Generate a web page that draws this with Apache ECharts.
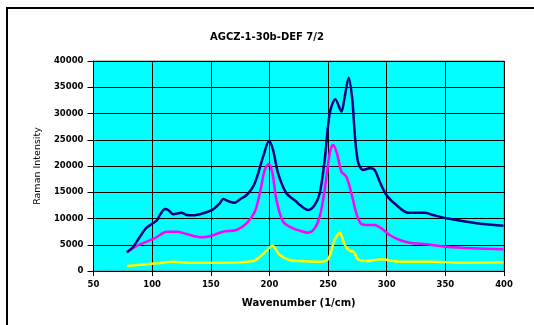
<!DOCTYPE html>
<html><head><meta charset="utf-8">
<script src="https://cdn.jsdelivr.net/npm/echarts@6/dist/echarts.min.js"></script>
<style>html,body{margin:0;padding:0;background:#fff;}#c{width:534px;height:325px;}</style>
</head><body><div id="c"></div>
<script>
const titleText = 'AGCZ-1-30b-DEF 7/2';
const xName = 'Wavenumber (1/cm)';
const yName = 'Raman Intensity';

const waveNavy = [78.3,83.9,89.6,95.3,103.8,106.6,110.9,113.7,118,125.1,129.4,135,143.5,152,157.7,160.5,166.2,170.5,174.8,180.5,186.1,190.4,194.6,199.7,203.1,207.4,214.5,223,226,232.9,238.6,242.9,247.1,251.4,256.2,261.4,264.2,267.6,270.7,272.7,275.5,279.8,285.5,289.7,294,299.7,308.2,318.1,332.3,339.4,350.8,367.8,382,399.6];
const intNavy  = [3560,4630,6540,8250,9580,10670,11810,11620,10800,11100,10670,10600,11000,11750,12900,13700,13200,13000,13650,14480,16060,18600,21770,24760,23050,18600,14800,13200,12570,11620,12570,14800,21140,30040,32700,30350,33200,36820,32570,26230,20820,19240,19560,19240,17010,14480,12570,11100,11100,10670,10030,9400,8950,8630];

const waveMagenta = [78.3,86.7,100.9,106.6,112.3,120.8,129.4,142.1,150.7,160.5,171.9,180.5,187.5,191.8,196,199.5,202.6,206,211.6,220.1,226,232.9,238.6,242.9,247.1,251.4,254.2,257.6,261.4,265.6,269.9,274.1,278.4,284,289.7,295.4,302.5,311,319.5,333.7,350.8,373.4,399.6];
const intMagenta  = [3560,4760,6100,6860,7490,7490,7050,6410,6730,7490,7810,9080,11300,14800,19240,20380,18600,13520,9400,8130,7680,7300,8130,10350,15430,22420,24000,22420,18900,17960,14800,11000,8950,8760,8760,8130,6860,5900,5400,5080,4630,4320,4130];

const waveYellow = [78.3,103.8,118,132.2,160.5,186.1,194.6,202.6,208.8,217.3,226,242.9,249.9,255.6,259.9,264.2,268.4,271.8,275.5,282.6,295.4,311,339.4,367.8,399.6];
const intYellow  = [950,1460,1780,1590,1590,1900,3240,4820,3050,2100,1900,1780,2220,5900,7300,4950,3870,3680,2220,1900,2220,1780,1780,1590,1660];

const xTicks = [50,100,150,200,250,300,350,400];
const yTicks = [0,5000,10000,15000,20000,25000,30000,35000,40000];

function pairs(xs, ys){ return xs.map((x,i)=>[x, ys[i]]); }

const chart = echarts.init(document.getElementById('c'), null, {renderer:'canvas'});
const font = '"DejaVu Sans", sans-serif';
chart.setOption({
  animation:false,
  backgroundColor:'#ffffff',
  title:{text:titleText,left:'center',top:27,textStyle:{fontFamily:font,fontSize:10,fontWeight:'bold',color:'#000'}},
  grid:{left:93.5,right:30,top:61,bottom:54,show:true,backgroundColor:'#00ffff',borderColor:'#808080',borderWidth:1},
  graphic:[{type:'rect',shape:{x:7,y:8,width:700,height:500},style:{fill:'none',stroke:'#000',lineWidth:2},silent:true}],
  xAxis:{type:'value',min:xTicks[0],max:xTicks[xTicks.length-1],interval:50,
    name:xName,nameLocation:'middle',nameGap:27,
    nameTextStyle:{fontFamily:font,fontSize:10,fontWeight:'bold',color:'#000'},
    axisLine:{lineStyle:{color:'#000',width:1}},
    axisTick:{show:true,length:5,inside:false,lineStyle:{color:'#000'}},
    axisLabel:{fontFamily:font,fontSize:8.5,fontWeight:'bold',color:'#000',margin:9,formatter:v=>String(v)},
    splitLine:{show:true,lineStyle:{color:'#000',width:1}}},
  yAxis:{type:'value',min:yTicks[0],max:yTicks[yTicks.length-1],interval:5000,
    name:yName,nameLocation:'middle',nameGap:50,
    nameTextStyle:{fontFamily:font,fontSize:9.5,color:'#000'},
    axisLine:{show:true,lineStyle:{color:'#000',width:1}},
    axisTick:{show:true,length:6,inside:false,lineStyle:{color:'#000'}},
    axisLabel:{fontFamily:font,fontSize:8.5,fontWeight:'bold',color:'#000',margin:10,formatter:v=>String(v)},
    splitLine:{show:true,lineStyle:{color:'#000',width:1}}},
  series:[
    {type:'line',data:pairs(waveYellow,intYellow),showSymbol:false,smooth:0.3,lineStyle:{color:'#ffff00',width:2.5}},
    {type:'line',data:pairs(waveMagenta,intMagenta),showSymbol:false,smooth:0.3,lineStyle:{color:'#ff00ff',width:2.5}},
    {type:'line',data:pairs(waveNavy,intNavy),showSymbol:false,smooth:0.3,lineStyle:{color:'#000080',width:2.5}}
  ]
});
</script></body></html>
